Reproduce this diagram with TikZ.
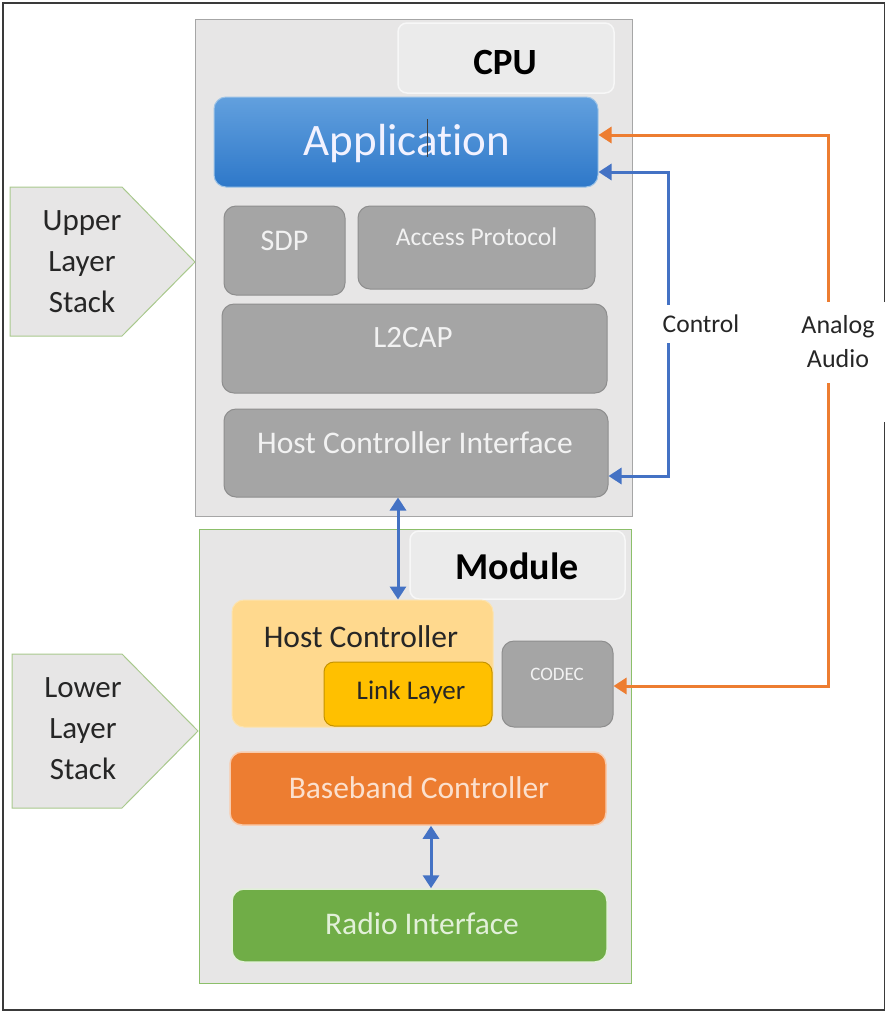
\documentclass[tikz,border=0pt]{standalone}
\usepackage{fontspec}
\setmainfont[Ligatures={NoCommon,NoRare,NoContextual}]{Carlito}
\usetikzlibrary{arrows.meta}

\definecolor{frameline}{HTML}{3A3A3A}
\definecolor{panel}{HTML}{E7E6E6}
\definecolor{panelline}{HTML}{A6A6A6}
\definecolor{modline}{HTML}{8CBF6A}
\definecolor{tagfill}{HTML}{EBEBEB}
\definecolor{tagline}{HTML}{F7F7F7}
\definecolor{apptop}{HTML}{62A0DE}
\definecolor{appbot}{HTML}{2E78C9}
\definecolor{appline}{HTML}{9DC3E6}
\definecolor{grayfill}{HTML}{A5A5A5}
\definecolor{grayline}{HTML}{8E8E8E}
\definecolor{hcfill}{HTML}{FFD98E}
\definecolor{hcline}{HTML}{FCE3AE}
\definecolor{llfill}{HTML}{FFC000}
\definecolor{llline}{HTML}{C49300}
\definecolor{bbfill}{HTML}{ED7D31}
\definecolor{bbline}{HTML}{F8CBAD}
\definecolor{rdfill}{HTML}{70AD47}
\definecolor{rdline}{HTML}{E2F0D9}
\definecolor{ctrlblue}{HTML}{4472C4}
\definecolor{audioorange}{HTML}{ED7D31}
\definecolor{stackline}{HTML}{A9C98D}
\definecolor{darktext}{HTML}{262626}
\definecolor{lighttext}{HTML}{F2F2F2}

\begin{document}
\begin{tikzpicture}[x=1pt,y=-1pt,
  fs/.style={font=\fontsize{#1}{\dimexpr #1pt*6/5\relax}\selectfont},
  area/.style={draw, line width=1pt, inner sep=0pt},
  tag/.style={draw=tagline, fill=tagfill, line width=1.5pt, rounded corners=9pt, inner sep=0pt},
  layer/.style={rounded corners=12pt, line width=1pt, inner sep=0pt},
  graybox/.style={layer, fill=grayfill, draw=grayline},
  lbl/.style={inner sep=0pt, text=lighttext},
  stack/.style={draw=stackline, fill=panel, line width=1pt},
  twoway/.style={line width=3pt, {Triangle[width=16pt,length=13pt]}-{Triangle[width=16pt,length=13pt]}},
  ctrl/.style={twoway, draw=ctrlblue},
  audio/.style={twoway, draw=audioorange},
  caption/.style={fill=white, inner sep=0pt, text=darktext, align=center}
]
\useasboundingbox (0,0) rectangle (886,1013);

% outer frame, broken on the right behind the audio caption
\draw[frameline, line width=1.5pt] (884.5,302) -- (884.5,3) -- (3,3) -- (3,1010) -- (884.5,1010) -- (884.5,422);

% ---------- CPU ----------
\node[area, draw=panelline, fill=panel, minimum width=437pt, minimum height=497pt] (cpu) at (413.5,267.5) {};
\node[tag, minimum width=216pt, minimum height=70pt] (cputag) at (506,58) {};
\node[inner sep=0pt, text=black, font=\fontsize{37}{44}\selectfont\bfseries] (cputxt) at (505,62) {CPU};

\node[layer, draw=appline, top color=apptop, bottom color=appbot, minimum width=384pt, minimum height=90pt] (app) at (406,142) {};
\node[lbl, text=white!95!blue, font=\fontsize{45}{54}\selectfont] (apptxt) at (407,143) {Applicat\kern0pt ion};
\draw[black!75, line width=0.8pt] (427,119) -- (427,157);

\node[graybox, minimum width=121pt, minimum height=89pt] (sdp) at (284.5,250.5) {};
\node[lbl, fs=30] (sdptxt) at (284.5,241) {SDP};

\node[graybox, minimum width=237pt, minimum height=83pt] (acc) at (476.5,247.5) {};
\node[lbl, fs=25.5] (acctxt) at (476.5,237) {Access Protocol};

\node[graybox, minimum width=385pt, minimum height=89pt] (l2cap) at (414.5,348.5) {};
\node[lbl, fs=31] (l2captxt) at (413,338) {L2CAP};

\node[graybox, minimum width=384pt, minimum height=88pt] (hci) at (416,453) {};
\node[lbl, fs=31.5] (hcitxt) at (415,443) {Host Controller Interface};

% ---------- Module ----------
\node[area, draw=modline, fill=panel, minimum width=432pt, minimum height=454pt] (module) at (415,756) {};
\node[tag, minimum width=215pt, minimum height=68pt] (modtag) at (517.5,565) {};
\node[inner sep=0pt, text=black, font=\fontsize{38}{45}\selectfont\bfseries] (modtxt) at (517,566) {Module};

\node[layer, fill=hcfill, draw=hcline, minimum width=261pt, minimum height=127pt] (hc) at (362.5,663.5) {};
\node[inner sep=0pt, text=darktext, fs=31.5] (hctxt) at (361,637) {Host Controller};

\node[layer, rounded corners=10pt, fill=llfill, draw=llline, minimum width=168pt, minimum height=64pt] (ll) at (408,694) {};
\node[inner sep=0pt, text=darktext, fs=27] (lltxt) at (411,692) {Link Layer};

\node[graybox, minimum width=111pt, minimum height=86pt] (codec) at (557.5,684) {};
\node[lbl, fs=19] (codectxt) at (557,674) {CODEC};

\node[layer, fill=bbfill, draw=bbline, line width=1.5pt, minimum width=376pt, minimum height=73pt] (bb) at (418,788.5) {};
\node[lbl, text=bbline!60!white, fs=31.5] (bbtxt) at (419,788) {Baseband Controller};

\node[layer, fill=rdfill, draw=rdline, line width=1.5pt, minimum width=375pt, minimum height=73pt] (radio) at (419.5,925.5) {};
\node[lbl, text=rdline, fs=31.5] (radiotxt) at (422,924) {Radio Interface};

% ---------- stack tags ----------
\draw[stack] (10,187) -- (122,187) -- (195,262) -- (122,336) -- (10,336) -- cycle;
\node[inner sep=0pt, text=darktext, align=center, font=\fontsize{31}{41}\selectfont] (upper) at (82,262)
  {Upper\\Layer\\Stack};
\draw[stack] (12,654) -- (122,654) -- (198,731) -- (122,808) -- (12,808) -- cycle;
\node[inner sep=0pt, text=darktext, align=center, font=\fontsize{31}{41}\selectfont] (lower) at (83,729)
  {Lower\\Layer\\Stack};

% ---------- connectors ----------
\coordinate (xa) at (398,0);
\coordinate (xb) at (431,0);
\draw[ctrl] (hci.south -| xa) -- (hc.north -| xa);
\draw[ctrl] (bb.south -| xb) -- (radio.north -| xb);

\coordinate (cy1) at (0,172);
\coordinate (cy2) at (0,476);
\coordinate (cx) at (668,0);
\draw[ctrl] (app.east |- cy1) -- (cx |- cy1) -- (cx |- cy2) -- (hci.east |- cy2);
\node[caption, minimum height=38pt, minimum width=82pt, fs=25.5] (control) at (701,324) {Control};

\coordinate (ay1) at (0,135);
\coordinate (ay2) at (0,686);
\coordinate (ax) at (828,0);
\draw[audio] (app.east |- ay1) -- (ax |- ay1) -- (ax |- ay2) -- (codec.east |- ay2);
\node[caption, minimum height=81pt, minimum width=80pt, font=\fontsize{26}{34}\selectfont] (analog) at (838,342) {Analog\\Audio};

\end{tikzpicture}
\end{document}
